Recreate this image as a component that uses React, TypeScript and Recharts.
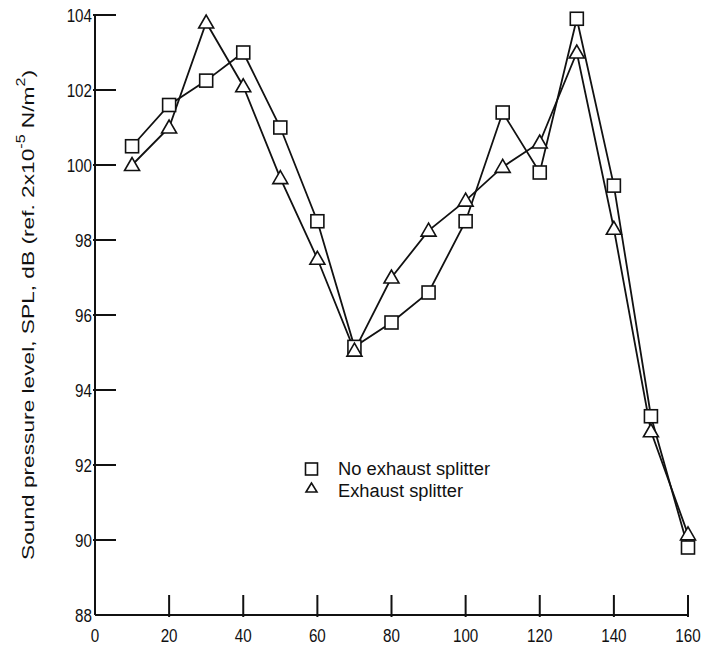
import React from "react";
import { Line, LineChart, XAxis, YAxis } from "recharts";

// angle from inlet, deg
const ANGLES = [10, 20, 30, 40, 50, 60, 70, 80, 90, 100, 110, 120, 130, 140, 150, 160];
const NO_SPLITTER = [100.5, 101.6, 102.25, 103.0, 101.0, 98.5, 95.15, 95.8, 96.6, 98.5, 101.4, 99.8, 103.9, 99.45, 93.3, 89.8];
const SPLITTER = [100.0, 101.0, 103.8, 102.1, 99.65, 97.5, 95.05, 97.0, 98.25, 99.05, 99.95, 100.6, 103.0, 98.3, 92.9, 90.15];
const X_TICKS = [0, 20, 40, 60, 80, 100, 120, 140, 160];
const Y_TICKS = [88, 90, 92, 94, 96, 98, 100, 102, 104];
const SERIES_NAMES = ["No exhaust splitter", "Exhaust splitter"];

const data = ANGLES.map((x, i) => ({ x, none: NO_SPLITTER[i], split: SPLITTER[i] }));

const FONT = '"Liberation Sans", Arial, sans-serif';
const INK = "#111";

function SquareDot({ cx, cy, index }: any) {
  return <rect key={`s${index}`} x={cx - 6.5} y={cy - 6.5} width={13} height={13} fill="#fff" stroke={INK} strokeWidth={1.6} />;
}

function TriangleDot({ cx, cy, index }: any) {
  return (
    <polygon
      key={`t${index}`}
      points={`${cx},${cy - 7.5} ${cx - 7.5},${cy + 5.5} ${cx + 7.5},${cy + 5.5}`}
      fill="#fff"
      stroke={INK}
      strokeWidth={1.6}
    />
  );
}

// narrow digits like the typed originals
function NarrowText({ x, y, anchor, children }: any) {
  return (
    <text
      transform={`translate(${x},${y}) scale(0.8,1)`}
      textAnchor={anchor}
      fontFamily={FONT}
      fontSize={19}
      fill={INK}
    >
      {children}
    </text>
  );
}

function XTick({ x, y, payload }: any) {
  return (
    <g>
      {payload.value !== 0 && <line x1={x} x2={x} y1={y} y2={y - 22} stroke={INK} strokeWidth={2} />}
      <NarrowText x={x} y={y + 25} anchor="middle">
        {payload.value}
      </NarrowText>
    </g>
  );
}

function YTick({ x, y, payload }: any) {
  return (
    <g>
      {payload.value !== 88 && <line x1={x} x2={x + 23} y1={y} y2={y} stroke={INK} strokeWidth={2} />}
      <NarrowText x={x - 1} y={y + 7} anchor="end">
        {payload.value}
      </NarrowText>
    </g>
  );
}

function YLabel({ viewBox }: any) {
  const cx = 28;
  const cy = viewBox.y + viewBox.height / 2;
  return (
    <text
      x={cx}
      y={cy}
      transform={`rotate(-90 ${cx} ${cy})`}
      textAnchor="middle"
      dominantBaseline="central"
      fontFamily={FONT}
      fontSize={17}
      fill={INK}
      textLength={490}
      lengthAdjust="spacingAndGlyphs"
    >
      Sound pressure level, SPL, dB (ref. 2x10
      <tspan baselineShift="super" fontSize={12}>-5</tspan>
      {" N/m"}
      <tspan baselineShift="super" fontSize={12}>2</tspan>)
    </text>
  );
}

function LegendBox() {
  return (
    <svg
      width={210}
      height={50}
      style={{ position: "absolute", left: 300, top: 455 }}
    >
      <rect x={5.5} y={8} width={12} height={12} fill="#fff" stroke={INK} strokeWidth={1.6} />
      <polygon points="11.5,28 6,37 17,37" fill="#fff" stroke={INK} strokeWidth={1.6} />
      <text x={38} y={19.5} fontFamily={FONT} fontSize={18} fill={INK} textLength={152} lengthAdjust="spacingAndGlyphs">
        {SERIES_NAMES[0]}
      </text>
      <text x={38} y={41.5} fontFamily={FONT} fontSize={18} fill={INK} textLength={125} lengthAdjust="spacingAndGlyphs">
        {SERIES_NAMES[1]}
      </text>
    </svg>
  );
}

export default function App() {
  return (
    <div style={{ position: "absolute", left: 0, top: 0, width: 705, height: 652, background: "#fff" }}>
      <LineChart width={705} height={652} data={data} margin={{ top: 15, right: 17, bottom: 0, left: 0 }}>
        <XAxis
          type="number"
          dataKey="x"
          domain={[0, 160]}
          ticks={X_TICKS}
          interval={0}
          height={37}
          tickSize={0}
          tickLine={false}
          axisLine={{ stroke: INK, strokeWidth: 2 }}
          tick={<XTick />}
        />
        <YAxis
          type="number"
          domain={[88, 104]}
          ticks={Y_TICKS}
          interval={0}
          width={95}
          tickSize={0}
          tickLine={false}
          axisLine={{ stroke: INK, strokeWidth: 2 }}
          tick={<YTick />}
          label={{ content: <YLabel /> }}
        />
        <Line
          dataKey="none"
          name={SERIES_NAMES[0]}
          stroke={INK}
          strokeWidth={1.8}
          dot={<SquareDot />}
          isAnimationActive={false}
        />
        <Line
          dataKey="split"
          name={SERIES_NAMES[1]}
          stroke={INK}
          strokeWidth={1.8}
          dot={<TriangleDot />}
          isAnimationActive={false}
        />
      </LineChart>
      <LegendBox />
    </div>
  );
}
